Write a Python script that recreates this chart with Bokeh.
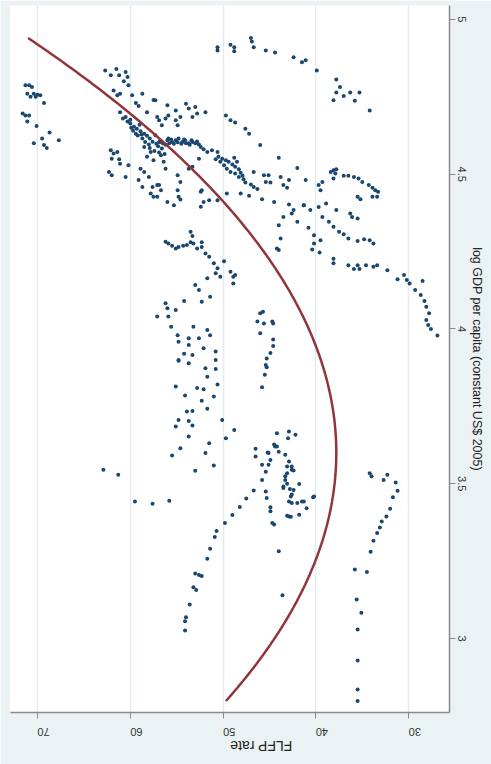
import math
import numpy as np
from bokeh.plotting import figure
from bokeh.models import Range1d
from bokeh.embed import file_html
from bokeh.resources import INLINE

# Country-year observations: (FLFP rate, log GDP per capita)
richest_high_flfp = [
    (71.3, 4.787), (70.9, 4.787), (70.6, 4.782), (71.1, 4.760), (70.4, 4.760), (70.0, 4.757),
    (70.75, 4.750), (70.2, 4.750), (69.7, 4.755), (69.3, 4.730), (71.6, 4.696), (71.3, 4.690),
    (70.9, 4.690), (71.1, 4.670), (70.1, 4.656), (68.7, 4.635), (69.5, 4.615), (70.4, 4.600),
    (69.3, 4.594), (69.0, 4.585), (67.7, 4.610),
]

upper_main = [
    (62.7, 4.835), (62.1, 4.820), (61.5, 4.840), (61.2, 4.820), (60.5, 4.830), (60.3, 4.814),
    (60.7, 4.800), (60.2, 4.787), (61.8, 4.770), (61.1, 4.760), (61.4, 4.755), (59.8, 4.755),
    (58.7, 4.760), (59.4, 4.730), (59.1, 4.720), (57.5, 4.740), (58.2, 4.700), (61.1, 4.700),
    (60.5, 4.685), (57.1, 4.685), (60.3, 4.670), (60.0, 4.664), (59.6, 4.653), (59.3, 4.647),
    (58.9, 4.639), (58.5, 4.631), (58.2, 4.624), (59.4, 4.631), (58.7, 4.615), (58.4, 4.604),
    (58.0, 4.596), (58.5, 4.588), (57.8, 4.572), (58.2, 4.556), (57.5, 4.545), (62.1, 4.577),
    (61.8, 4.567), (61.4, 4.572), (62.0, 4.550), (61.2, 4.548), (61.1, 4.534), (60.2, 4.529),
    (62.3, 4.507), (62.0, 4.497), (60.5, 4.491), (58.9, 4.518), (58.5, 4.507), (58.0, 4.491),
    (59.1, 4.481), (58.7, 4.459), (57.6, 4.459), (57.8, 4.438), (57.5, 4.427), (57.1, 4.465),
    (60.8, 4.680), (60.0, 4.676), (59.9, 4.650), (59.0, 4.660), (59.7, 4.640), (59.2, 4.625),
    (58.8, 4.628), (57.9, 4.615), (57.6, 4.605), (57.2, 4.598), (56.8, 4.605), (57.0, 4.590),
    (56.5, 4.600), (56.2, 4.595), (55.8, 4.600), (55.3, 4.598), (54.9, 4.603), (54.5, 4.598),
    (54.0, 4.600), (53.6, 4.595), (53.0, 4.600), (52.6, 4.596), (56.0, 4.610), (55.6, 4.612),
    (54.2, 4.612), (53.4, 4.610), (57.4, 4.575), (56.9, 4.570), (56.3, 4.565), (57.9, 4.585),
]

middle_band = [
    (57.3, 4.739), (56.0, 4.723), (55.1, 4.706), (54.0, 4.728), (53.7, 4.712), (53.0, 4.717),
    (52.8, 4.696), (53.3, 4.685), (51.9, 4.700), (54.6, 4.685), (55.1, 4.674), (55.9, 4.690),
    (56.2, 4.680), (56.9, 4.674), (54.9, 4.658), (56.6, 4.658), (49.7, 4.690), (49.2, 4.674),
    (48.7, 4.667), (47.6, 4.647), (47.2, 4.631), (46.0, 4.594), (44.0, 4.553), (42.0, 4.520),
    (55.9, 4.615), (55.5, 4.604), (55.1, 4.610), (54.8, 4.615), (54.4, 4.604), (54.1, 4.610),
    (53.7, 4.600), (53.3, 4.604), (52.8, 4.606), (52.4, 4.588), (52.1, 4.581), (51.7, 4.572),
    (51.2, 4.577), (50.6, 4.572), (50.5, 4.556), (50.1, 4.550), (49.7, 4.545), (49.4, 4.540),
    (49.0, 4.531), (48.7, 4.524), (48.3, 4.516), (48.1, 4.505), (47.9, 4.495), (47.8, 4.484),
    (47.6, 4.473), (47.0, 4.467), (46.7, 4.459), (46.3, 4.452), (50.8, 4.548), (50.3, 4.540),
    (49.9, 4.529), (49.6, 4.518), (49.2, 4.507), (48.7, 4.502), (48.8, 4.553), (48.5, 4.540),
    (48.3, 4.491), (45.6, 4.497), (45.1, 4.497), (45.4, 4.475), (44.9, 4.473), (43.8, 4.491),
    (42.9, 4.481), (43.5, 4.465), (43.1, 4.456), (46.7, 4.507),
    (57.3, 4.626), (56.9, 4.604), (56.6, 4.583), (56.7, 4.561), (56.4, 4.540), (56.2, 4.518),
    (56.9, 4.465), (56.7, 4.448), (57.1, 4.427), (54.9, 4.497), (54.6, 4.475), (54.9, 4.448),
    (54.8, 4.427), (56.0, 4.410), (55.3, 4.400), (53.7, 4.518), (53.3, 4.524), (52.6, 4.550),
    (52.3, 4.448), (52.4, 4.443), (52.1, 4.410), (52.4, 4.395), (51.5, 4.416), (50.6, 4.416),
    (49.6, 4.438), (48.1, 4.438), (47.2, 4.430), (45.8, 4.419), (44.5, 4.410), (42.9, 4.402),
    (42.4, 4.384), (42.6, 4.373), (41.3, 4.400), (42.0, 4.346), (43.5, 4.362), (44.0, 4.335),
    (43.8, 4.292), (44.2, 4.260), (44.0, 4.255), (54.6, 4.418),
]

top_arc = [
    (50.6, 4.910), (50.6, 4.900), (49.2, 4.918), (48.8, 4.910), (48.8, 4.897), (47.0, 4.940),
    (46.9, 4.929), (46.7, 4.910), (45.4, 4.900), (44.4, 4.893), (42.4, 4.878), (41.5, 4.862),
    (41.1, 4.868), (39.9, 4.835), (37.8, 4.806), (37.4, 4.782), (37.8, 4.764), (38.1, 4.739),
    (37.0, 4.753), (36.3, 4.764), (35.8, 4.737), (35.3, 4.764), (34.2, 4.706),
]

row_4_3 = [
    (56.2, 4.282), (55.9, 4.276), (55.5, 4.269), (55.1, 4.260), (54.8, 4.265), (54.3, 4.269),
    (53.9, 4.271), (53.5, 4.280), (53.2, 4.276), (52.8, 4.260), (52.3, 4.280), (52.3, 4.265),
    (51.9, 4.244), (51.5, 4.233), (51.0, 4.212), (50.6, 4.196), (50.8, 4.180), (50.3, 4.169),
    (49.9, 4.219), (49.2, 4.185), (48.9, 4.169), (48.7, 4.174), (48.9, 4.147), (53.5, 4.314),
    (53.3, 4.300), (51.7, 4.164), (53.0, 4.142), (52.6, 4.126), (51.4, 4.104), (52.3, 4.088),
]

middle_left = [
    (54.2, 4.090), (56.2, 4.083), (56.0, 4.067), (57.1, 4.040), (55.9, 4.040), (55.1, 4.061),
    (55.6, 4.007), (54.9, 3.980), (54.8, 3.959), (53.7, 3.970), (53.2, 4.007), (52.6, 3.970),
    (51.7, 3.997), (51.4, 3.980), (53.7, 3.948), (52.1, 3.938), (54.2, 3.920), (50.8, 3.927),
    (53.3, 3.916), (54.8, 3.900), (50.8, 3.900), (54.8, 3.897), (53.7, 3.889), (51.9, 3.873),
    (50.8, 3.871), (51.7, 3.846), (55.1, 3.814), (52.8, 3.809), (52.1, 3.805), (50.6, 3.821),
    (54.1, 3.785), (51.0, 3.782), (52.3, 3.768), (51.7, 3.742), (53.9, 3.733), (53.3, 3.735),
    (54.8, 3.706), (53.7, 3.703), (53.3, 3.688), (55.1, 3.685), (50.1, 3.706), (48.8, 3.674),
    (49.7, 3.647), (53.7, 3.653), (54.6, 3.615), (51.5, 3.631), (51.9, 3.599), (55.5, 3.591),
    (51.0, 3.559), (53.0, 3.542), (55.8, 3.445), (62.9, 3.545), (61.3, 3.529), (59.5, 3.443),
    (57.6, 3.435),
]

column_45 = [
    (46.0, 4.051), (45.7, 4.056), (46.3, 4.024), (45.6, 4.018), (44.7, 4.024), (44.6, 4.018),
    (46.0, 3.986), (44.6, 3.966), (44.6, 3.945), (44.9, 3.922), (45.3, 3.905), (45.4, 3.884),
    (45.3, 3.876), (45.5, 3.852), (45.8, 3.812),
]

low_income_cluster = [
    (44.2, 3.663), (42.9, 3.669), (42.2, 3.658), (43.0, 3.647), (44.5, 3.627), (44.2, 3.620),
    (44.0, 3.603), (46.5, 3.613), (46.5, 3.588), (45.1, 3.599), (43.3, 3.594), (44.9, 3.577),
    (42.9, 3.572), (45.1, 3.561), (45.8, 3.561), (43.1, 3.556), (42.6, 3.545), (45.4, 3.539),
    (43.1, 3.534), (45.8, 3.512), (43.3, 3.512), (43.5, 3.491), (42.4, 3.480), (41.8, 3.499),
    (45.4, 3.475), (45.3, 3.454), (42.7, 3.459), (42.6, 3.438), (41.5, 3.443), (44.9, 3.424),
    (44.9, 3.411), (42.9, 3.394), (41.8, 3.400), (44.7, 3.373), (44.0, 3.282), (43.6, 3.140),
    (41.3, 3.443), (40.2, 3.459), (41.0, 3.421), (40.3, 3.456), (44.4, 3.620), (45.2, 3.601),
    (42.6, 3.556), (42.4, 3.543), (43.3, 3.524), (43.1, 3.500), (43.5, 3.486), (42.8, 3.483),
    (42.6, 3.465), (42.9, 3.443), (42.0, 3.438), (43.1, 3.397), (42.7, 3.393), (44.5, 3.368),
]

diagonal_trail = [
    (46.7, 3.478), (47.5, 3.452), (48.2, 3.425), (49.0, 3.399), (49.8, 3.373), (50.7, 3.347),
    (50.9, 3.328), (51.4, 3.290), (51.7, 3.258), (53.0, 3.210), (52.6, 3.205), (52.3, 3.202),
    (53.2, 3.166), (52.9, 3.157), (53.6, 3.110), (54.0, 3.069), (54.1, 3.056), (54.1, 3.026),
]

low_flfp_trail = [
    (34.2, 3.534), (34.0, 3.524), (32.3, 3.529), (32.7, 3.512), (31.4, 3.504), (31.2, 3.477),
    (31.7, 3.456), (32.0, 3.419), (32.4, 3.394), (32.9, 3.378), (33.1, 3.359), (33.4, 3.341),
    (33.8, 3.316), (34.1, 3.280), (35.8, 3.223), (34.5, 3.215), (35.6, 3.126), (35.1, 3.083),
    (35.5, 3.029), (35.5, 2.929), (35.5, 2.835), (35.5, 2.798),
]

right_group = [
    (41.1, 4.481), (39.7, 4.465), (39.5, 4.448), (39.3, 4.475), (38.4, 4.507), (38.1, 4.513),
    (37.9, 4.502), (38.1, 4.486), (37.8, 4.516), (37.0, 4.495), (36.5, 4.495), (35.9, 4.491),
    (35.4, 4.486), (35.0, 4.475), (34.3, 4.465), (33.9, 4.456), (33.6, 4.448), (33.3, 4.443),
    (33.9, 4.427), (33.4, 4.427), (35.5, 4.427), (35.2, 4.419), (41.3, 4.400), (40.6, 4.384),
    (39.7, 4.394), (38.9, 4.405), (37.8, 4.384), (36.3, 4.373), (36.1, 4.362), (35.5, 4.357),
    (39.3, 4.362), (38.6, 4.346), (38.1, 4.330), (37.5, 4.314), (37.0, 4.306), (36.5, 4.292),
    (35.5, 4.284), (34.8, 4.290), (34.2, 4.287), (33.8, 4.276), (40.8, 4.327), (40.2, 4.303),
    (39.5, 4.287), (40.2, 4.276), (40.4, 4.257), (39.6, 4.247), (38.1, 4.227), (38.1, 4.212),
    (36.5, 4.206), (35.9, 4.194), (35.5, 4.206), (35.3, 4.194), (34.6, 4.206), (33.8, 4.201),
    (33.4, 4.206), (32.3, 4.190), (31.2, 4.161), (30.5, 4.174), (30.2, 4.158), (29.9, 4.147),
    (29.3, 4.126), (28.5, 4.155), (28.7, 4.110), (28.3, 4.090), (28.1, 4.072), (27.8, 4.051),
    (28.1, 4.029), (27.9, 4.013), (27.6, 4.000), (26.9, 3.979),
]

# Quadratic fit of FLFP on log GDP: b0 + b1*g + b2*g^2
QFIT = (277.56, -133.2, 18.5)

FLFP_TICKS = [30, 40, 50, 60, 70]
GDP_TICKS = [3, 3.5, 4, 4.5, 5]
GDP_TICK_LABELS = ["3", "3.5", "4", "4.5", "5"]
X_TITLE = "FLFP rate"
Y_TITLE = "log GDP per capita (constant US$ 2005)"

groups = [richest_high_flfp, upper_main, middle_band, top_arc, row_4_3, middle_left,
          column_45, low_income_cluster, diagonal_trail, low_flfp_trail, right_group]
points = [pt for grp in groups for pt in grp]
flfp = [pt[0] for pt in points]
lgdp = [pt[1] for pt in points]

BG = "#eaf2f3"
FONT = "Liberation Sans"

p = figure(
    width=491, height=764,
    x_range=Range1d(72.91, 25.60), y_range=Range1d(2.761, 5.045),
    y_axis_location="right",
    output_backend="svg", toolbar_location=None,
    min_border_left=10, min_border_top=5, min_border_right=42, min_border_bottom=51,
)
p.border_fill_color = BG
p.background_fill_color = "white"
p.outline_line_color = None

# gridlines along the FLFP ticks only
p.xgrid.ticker = FLFP_TICKS
p.xgrid.grid_line_color = "#e2ebee"
p.xgrid.grid_line_width = 1.5
p.ygrid.visible = False

# bottom axis: FLFP rate, labels and title drawn upside down
xa = p.xaxis[0]
xa.ticker = FLFP_TICKS
xa.major_label_orientation = math.pi
xa.major_label_standoff = 13
xa.axis_label = X_TITLE
xa.axis_label_orientation = math.pi
xa.axis_label_standoff = 3
xa.axis_label_text_font_size = "14px"

# right axis: log GDP per capita, text reads top to bottom
ya = p.yaxis[0]
ya.ticker = GDP_TICKS
ya.major_label_overrides = {t: s for t, s in zip(GDP_TICKS, GDP_TICK_LABELS)}
ya.major_label_orientation = "parallel"
ya.major_label_standoff = 2
ya.axis_label = Y_TITLE
ya.axis_label_standoff = 1
ya.axis_label_text_font_size = "12.5px"

for ax in (xa, ya):
    ax.axis_line_color = "#8a8a8a"
    ax.axis_line_width = 1.5
    ax.major_tick_line_color = "#8a8a8a"
    ax.major_tick_in = 0
    ax.major_tick_out = 6
    ax.minor_tick_line_color = None
    ax.major_label_text_font = FONT
    ax.major_label_text_font_size = "11px"
    ax.major_label_text_color = "#333333"
    ax.axis_label_text_font = FONT
    ax.axis_label_text_font_style = "normal"
    ax.axis_label_text_color = "#222222"

p.scatter(flfp, lgdp, size=4, marker="circle", fill_color="#1a476f", line_color=None)

g = np.linspace(min(lgdp), max(lgdp), 200)
fit = QFIT[0] + QFIT[1] * g + QFIT[2] * g ** 2
p.line(fit, g, line_color="#90353b", line_width=2.5)

open("out.html", "w").write(file_html(p, INLINE))
